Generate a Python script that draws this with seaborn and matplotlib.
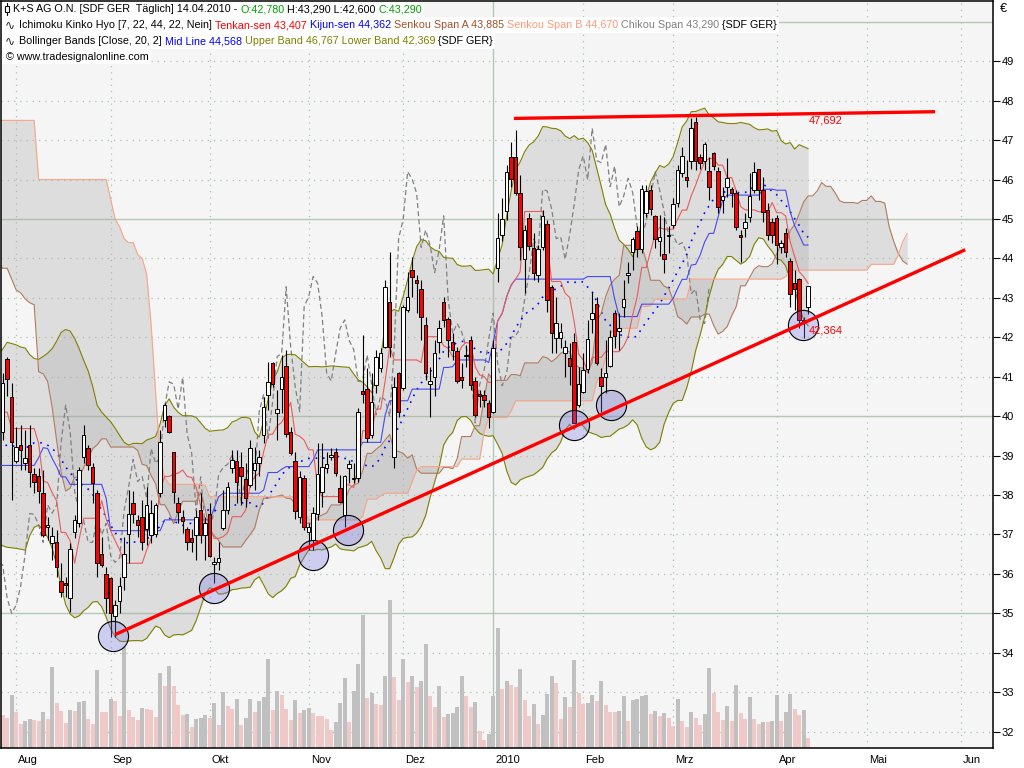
import numpy as np
import pandas as pd
import matplotlib
matplotlib.use("Agg")
import matplotlib.pyplot as plt
from matplotlib.patches import Rectangle
from matplotlib.lines import Line2D
from matplotlib.transforms import blended_transform_factory
import seaborn as sns

open_ = [39.61, 41.44, 40.49, 38.85, 39.27, 38.80, 39.27, 38.53, 38.47, 38.04,
         37.20, 36.78, 36.80, 35.83, 35.76, 35.38, 37.07, 37.28, 38.97, 39.20,
         38.72, 38.04, 36.50, 36.00, 35.89, 34.93, 35.31, 35.91, 37.01, 37.79,
         37.37, 37.45, 37.13, 36.99, 37.01, 38.04, 39.90, 40.00, 39.08, 37.79,
         37.45, 37.14, 36.90, 36.99, 37.62, 36.99, 37.51, 36.24, 36.31, 37.16,
         37.62, 38.68, 38.85, 38.70, 38.40, 38.25, 38.63, 38.80, 39.52, 40.54,
         41.36, 40.07, 40.68, 41.28, 39.61, 38.85, 37.45, 38.42, 37.05, 36.86,
         37.52, 38.08, 38.68, 38.96, 39.10, 38.19, 37.49, 38.68, 38.40, 38.42,
         40.65, 40.68, 39.52, 40.79, 41.21, 41.76, 42.90, 38.97, 41.09, 40.71,
         42.69, 43.71, 43.45, 43.22, 42.31, 40.81, 41.00, 41.89, 42.90, 42.46,
         41.87, 41.64, 40.99, 41.52, 41.93, 40.89, 40.55, 40.54, 40.33, 40.11,
         43.75, 44.59, 45.20, 46.58, 46.56, 45.65, 43.98, 45.02, 44.26, 43.58,
         44.28, 44.87, 43.28, 41.97, 41.97, 41.60, 41.47, 41.87, 40.28, 40.62,
         41.19, 42.46, 42.84, 41.00, 40.99, 41.28, 42.61, 42.17, 42.78, 43.57,
         44.17, 44.70, 44.24, 45.14, 45.74, 45.08, 44.45, 44.11, 44.56, 44.84,
         45.40, 46.17, 46.07, 46.47, 47.47, 46.58, 46.48, 46.22, 46.68, 46.22,
         45.48, 45.82, 45.76, 45.67, 44.60, 44.76, 45.06, 45.73, 46.26, 45.73,
         45.23, 44.93, 45.02, 44.30, 44.64, 43.94, 43.37, 43.47, 42.44, 42.78]
high = [41.09, 41.50, 40.83, 39.73, 39.77, 39.65, 39.77, 38.68, 38.68, 38.63,
        37.45, 37.20, 37.11, 36.27, 35.93, 36.78, 37.50, 38.72, 39.78, 39.27,
        38.80, 38.13, 36.94, 36.18, 35.93, 35.34, 35.93, 36.94, 38.13, 38.09,
        37.49, 37.87, 38.21, 37.87, 37.79, 39.65, 40.33, 40.03, 39.10, 37.96,
        37.62, 37.20, 37.15, 37.62, 38.04, 37.45, 37.79, 36.44, 36.82, 38.13,
        38.34, 39.14, 39.14, 39.10, 38.80, 39.40, 39.23, 39.14, 40.49, 41.38,
        41.38, 40.66, 41.55, 41.68, 39.73, 39.10, 38.60, 38.50, 37.30, 37.70,
        39.31, 39.31, 39.10, 39.18, 39.18, 38.50, 38.51, 38.89, 38.80, 40.20,
        42.06, 41.21, 41.09, 41.68, 41.72, 43.45, 44.17, 41.00, 41.13, 42.82,
        43.66, 44.04, 43.58, 43.45, 42.52, 41.25, 41.93, 42.44, 43.03, 42.52,
        42.10, 41.76, 41.34, 41.80, 42.02, 41.00, 40.66, 40.66, 40.41, 41.93,
        45.14, 45.52, 46.37, 46.96, 47.26, 46.12, 44.85, 45.14, 44.64, 44.34,
        45.23, 44.97, 43.33, 43.03, 42.35, 41.93, 41.85, 42.10, 41.25, 41.60,
        42.44, 43.16, 43.03, 41.21, 41.93, 42.18, 42.69, 42.61, 43.45, 43.92,
        44.55, 44.81, 45.86, 45.86, 45.86, 45.10, 45.10, 45.06, 44.81, 45.52,
        46.37, 46.83, 46.50, 47.55, 47.59, 46.66, 46.96, 46.58, 46.71, 46.33,
        45.82, 46.54, 45.82, 45.73, 44.72, 45.14, 46.16, 46.45, 46.28, 46.07,
        45.40, 45.02, 45.10, 44.47, 44.76, 44.00, 43.71, 43.50, 42.52, 43.29]
low = [39.40, 40.50, 37.87, 38.80, 38.63, 38.63, 38.21, 38.04, 37.79, 36.94,
       36.86, 36.35, 35.93, 35.42, 35.42, 35.04, 36.90, 37.20, 38.80, 38.63,
       37.79, 35.93, 36.18, 35.00, 34.41, 34.41, 35.00, 35.59, 36.27, 37.28,
       36.94, 36.61, 36.73, 36.78, 36.94, 37.96, 39.73, 39.56, 37.79, 37.28,
       37.03, 36.61, 36.56, 36.35, 36.78, 36.35, 36.44, 35.76, 36.10, 37.11,
       37.53, 38.55, 37.79, 37.75, 37.70, 38.21, 38.13, 38.47, 39.31, 40.16,
       40.75, 39.40, 40.07, 39.48, 39.02, 37.40, 37.30, 37.10, 36.61, 36.61,
       37.37, 37.70, 38.55, 38.89, 38.47, 37.79, 37.20, 38.30, 38.30, 38.34,
       40.33, 39.35, 39.44, 40.58, 41.13, 41.72, 41.51, 38.68, 39.99, 40.66,
       42.65, 43.03, 42.61, 41.93, 40.92, 39.99, 40.50, 41.60, 42.27, 41.51,
       41.42, 40.83, 40.71, 41.25, 40.66, 39.99, 40.24, 40.24, 39.69, 40.07,
       43.41, 44.43, 44.97, 45.82, 45.61, 43.96, 43.12, 44.21, 43.45, 43.41,
       44.21, 42.65, 41.60, 41.60, 41.72, 41.00, 40.79, 39.82, 40.24, 40.58,
       41.09, 42.10, 41.30, 40.11, 40.58, 41.25, 41.72, 41.68, 42.52, 43.37,
       43.71, 44.04, 44.13, 45.06, 45.10, 44.26, 44.05, 43.62, 44.13, 44.76,
       45.31, 46.07, 45.82, 46.28, 46.24, 46.28, 46.24, 45.48, 46.24, 45.14,
       45.14, 45.57, 45.30, 44.72, 43.92, 44.55, 44.93, 45.65, 45.48, 44.93,
       44.47, 44.38, 43.87, 44.13, 44.04, 42.78, 42.69, 42.23, 41.97, 42.60]
close = [40.83, 40.93, 39.35, 39.23, 39.14, 38.93, 38.59, 38.34, 38.09, 36.99,
         37.24, 36.95, 36.18, 35.55, 35.72, 36.62, 37.37, 38.63, 39.52, 38.76,
         38.30, 36.27, 36.23, 35.38, 35.00, 35.21, 35.69, 36.50, 37.53, 37.51,
         37.24, 36.80, 37.75, 37.54, 37.75, 39.35, 40.28, 39.61, 38.08, 37.58,
         37.35, 36.80, 36.80, 37.45, 36.99, 37.28, 36.46, 36.29, 36.41, 37.62,
         38.21, 38.90, 38.34, 38.47, 37.92, 39.18, 38.80, 38.97, 40.24, 40.87,
         40.81, 40.18, 40.98, 39.54, 39.06, 37.60, 38.46, 37.20, 37.20, 37.55,
         38.52, 38.70, 38.78, 39.02, 38.57, 37.83, 38.48, 38.78, 38.42, 40.11,
         40.56, 39.44, 40.37, 41.51, 41.59, 43.28, 41.76, 40.75, 40.11, 42.78,
         43.03, 43.54, 43.37, 42.52, 41.09, 40.89, 41.59, 42.23, 42.44, 41.92,
         41.69, 40.88, 40.92, 41.55, 40.79, 40.03, 40.51, 40.41, 39.99, 41.72,
         44.51, 44.99, 46.20, 46.01, 45.65, 44.28, 44.72, 44.32, 43.64, 44.23,
         45.08, 42.95, 42.10, 42.35, 42.13, 41.75, 41.28, 39.83, 40.81, 41.17,
         41.95, 42.61, 41.34, 40.77, 41.10, 42.00, 42.04, 42.23, 42.97, 43.62,
         44.49, 44.24, 45.75, 45.71, 45.25, 44.50, 44.55, 43.98, 44.60, 45.37,
         46.24, 46.60, 46.00, 47.30, 46.48, 46.43, 46.89, 45.82, 46.34, 45.31,
         45.58, 46.03, 45.67, 44.80, 44.55, 44.93, 45.58, 46.20, 45.73, 45.18,
         44.59, 44.59, 44.34, 44.40, 44.15, 43.10, 43.22, 42.44, 42.35, 43.29]
# Umsatz in Tsd. Stueck (Balkenhoehe im Chart)
volume = [330, 300, 530, 360, 240, 270, 290, 280, 270, 360,
          290, 810, 450, 370, 250, 380, 370, 460, 470, 290,
          240, 780, 360, 360, 490, 470, 320, 1010, 380, 310,
          280, 400, 390, 380, 310, 750, 620, 820, 620, 430,
          330, 340, 210, 290, 300, 330, 300, 450, 230, 560,
          420, 390, 490, 230, 300, 490, 360, 470, 510, 890,
          380, 570, 530, 390, 280, 480, 350, 380, 400, 350,
          320, 320, 290, 180, 260, 450, 700, 260, 570, 840,
          1330, 500, 550, 440, 430, 720, 1480, 710, 480, 890,
          660, 720, 610, 670, 1040, 520, 410, 620, 310, 340,
          350, 410, 720, 520, 410, 460, 170, 80, 140, 520,
          1200, 590, 670, 630, 610, 790, 480, 320, 440, 240,
          330, 540, 720, 650, 290, 510, 410, 880, 550, 440,
          450, 530, 470, 670, 430, 360, 360, 370, 520, 270,
          480, 490, 520, 530, 340, 370, 320, 350, 300, 220,
          490, 270, 210, 360, 300, 230, 340, 800, 550, 360,
          280, 420, 270, 630, 350, 290, 510, 290, 240, 260,
          260, 270, 530, 270, 360, 540, 390, 330, 380, 100]
vol_top = 7470  # Umsatz, der der vollen Chart-Hoehe entspricht

# fruehere Kurse (Mai - Juli 2009), nur fuer die Indikatoren am linken Rand
hist_high = [44.6, 45.2, 45.9, 45.9, 46.6, 47.4, 47.3, 47.9, 48.8, 48.9,
             49.5, 50.3, 50.2, 50.9, 51.8, 51.6, 52.4, 53.1, 53.0, 53.7,
             54.5, 54.4, 55.1, 55.7, 56.0, 55.0, 54.0, 53.6, 53.0, 52.5,
             52.8, 52.2, 52.0, 51.2, 48.6, 45.2, 42.4, 41.4, 40.9, 41.0,
             40.9, 40.5, 40.4, 40.8, 40.6, 40.5, 40.3, 40.1, 40.2, 40.1,
             40.3, 39.9, 38.8, 37.7, 38.2, 38.1, 38.6, 39.0, 38.9, 39.3,
             39.9, 39.9, 40.6, 41.0, 41.5, 41.2]
hist_low = [43.2, 43.8, 44.5, 44.6, 45.0, 46.0, 46.0, 46.3, 47.3, 47.5,
            47.9, 48.9, 48.8, 49.2, 50.3, 50.2, 50.6, 51.7, 51.6, 52.0,
            53.1, 53.0, 53.5, 54.3, 54.4, 53.6, 52.8, 52.3, 51.7, 51.4,
            51.6, 51.1, 50.8, 49.6, 46.5, 43.0, 40.4, 39.8, 39.5, 39.6,
            39.4, 39.0, 39.2, 39.6, 39.3, 39.4, 39.2, 39.1, 39.3, 39.2,
            39.4, 39.0, 36.0, 36.4, 36.9, 37.0, 37.4, 37.9, 37.7, 38.1,
            38.8, 38.7, 39.2, 39.9, 40.3, 39.8]
hist_close = [44.0, 44.8, 45.5, 45.1, 46.2, 47.0, 46.4, 47.5, 48.3, 48.0,
              49.1, 49.8, 49.4, 50.5, 51.2, 50.7, 52.0, 52.6, 52.1, 53.3,
              54.0, 53.6, 54.7, 55.2, 55.0, 54.2, 53.5, 53.0, 52.3, 52.0,
              52.4, 51.7, 51.5, 50.0, 47.0, 43.5, 41.0, 40.6, 40.0, 40.5,
              40.2, 39.6, 40.0, 40.4, 39.8, 40.1, 39.6, 39.6, 39.8, 39.7,
              39.9, 39.4, 36.6, 37.2, 37.8, 37.5, 38.2, 38.6, 38.4, 38.9,
              39.6, 39.4, 40.2, 40.7, 41.2, 40.6]

months = ["Aug", "Sep", "Okt", "Nov", "Dez", "2010", "Feb", "Mrz", "Apr", "Mai", "Jun"]
month_bar = [3, 24, 46, 68, 89, 109, 129, 149, 172, 192, 213]

# Trendlinien, Kreise, Beschriftungen
support_x = [25.0, 213.9]
support_y = [34.46, 44.22]
resist_x = [113.6, 207.2]
resist_y = [47.55, 47.72]
circle_x = [24.5, 47.0, 69.0, 76.7, 127.0, 135.2, 177.8]
circle_y = [34.42, 35.64, 36.48, 37.11, 39.77, 40.28, 42.31]
line_labels = ["47,692", "42,364"]
label_y = [47.51, 42.18]

# ---- Indikatoren ----
n_hist = len(hist_close)
pos = np.arange(-n_hist, len(close))
H = pd.Series(hist_high + high, index=pos)
L = pd.Series(hist_low + low, index=pos)
C = pd.Series(hist_close + close, index=pos)

tenkan = (H.rolling(7).max() + L.rolling(7).min()) / 2
kijun = (H.rolling(22).max() + L.rolling(22).min()) / 2
span_a = (tenkan + kijun) / 2
span_b = (H.rolling(44).max() + L.rolling(44).min()) / 2
bb_mid = C.rolling(20).mean()
bb_std = C.rolling(20).std(ddof=0)
bb_up = bb_mid + 2 * bb_std
bb_lo = bb_mid - 2 * bb_std

xb = np.arange(len(close))
o = np.array(open_)
hi = np.array(high)
lo = np.array(low)
c = np.array(close)
vol = np.array(volume, dtype=float)

# ---- Figure ----
sns.set_theme(style="white")
plt.rcParams["font.family"] = ["Liberation Sans", "DejaVu Sans"]
W, Hpx = 1024, 768
fig = plt.figure(figsize=(W / 100, Hpx / 100), dpi=100)
fig.patch.set_facecolor("white")
ax = fig.add_axes([1 / W, 20 / Hpx, 992 / W, 747 / Hpx])
ax.set_facecolor("#f5f5f5")
y0, y1 = 31.584, 50.528
ax.set_xlim(-0.37, 220.07)
ax.set_ylim(y0, y1)

grid_c = "#a9c4a9"
for v in range(32, 51):
    if v % 5 == 0:
        ax.axhline(v, color="#b4c8b4", lw=1.0, zorder=0.5)
    else:
        ax.axhline(v, color=grid_c, lw=0.9, ls=(0, (1, 4)), zorder=0.5)
for m, b in zip(months, month_bar):
    if m == "2010":
        ax.axvline(b, color="#b4c8b4", lw=1.0, zorder=0.5)
    else:
        ax.axvline(b, color=grid_c, lw=0.9, ls=(0, (1, 4)), zorder=0.5)

# Umsatz im Hintergrund
vol_up = np.r_[False, vol[1:] > vol[:-1]]
vol_h = vol / vol_top * (y1 - y0)
ax.bar(xb, vol_h, bottom=y0, width=0.88,
       color=np.where(vol_up, "#c0c0c0", "#efc8c8"), lw=0, zorder=1)

# Bollinger Baender und Wolke
vis = pos >= -1
ax.fill_between(pos[vis], bb_up.values[vis], bb_lo.values[vis],
                color="#a8a8a8", alpha=0.3, lw=0, zorder=1.5)
sx = pos + 22
sm = (sx >= -1) & span_b.notna().values & span_a.notna().values
ax.fill_between(sx[sm], span_a.values[sm], span_b.values[sm],
                color="#a8a8a8", alpha=0.3, lw=0, zorder=1.5)

sns.lineplot(x=pos[vis], y=bb_up.values[vis], ax=ax, color="#808000", lw=0.8, zorder=2.5)
sns.lineplot(x=pos[vis], y=bb_lo.values[vis], ax=ax, color="#808000", lw=0.8, zorder=2.5)
sns.lineplot(x=pos[vis], y=bb_mid.values[vis], ax=ax, color="#0000ff", lw=1.2,
             linestyle=(0, (1, 3.5)), zorder=2.5)
sns.lineplot(x=sx[sm], y=span_a.values[sm], ax=ax, color="#b07a60", lw=0.8, zorder=2.5)
sns.lineplot(x=sx[sm], y=span_b.values[sm], ax=ax, color="#f8a486", lw=0.8, zorder=2.5)
sns.lineplot(x=pos[vis], y=kijun.values[vis], ax=ax, color="#4848f0", lw=0.8, zorder=2.6)
sns.lineplot(x=pos[vis], y=tenkan.values[vis], ax=ax, color="#ec5a5a", lw=0.8, zorder=2.6)
cx = xb - 22
cm = cx >= -1
sns.lineplot(x=cx[cm], y=c[cm], ax=ax, color="#808080", lw=0.9,
             linestyle=(0, (4, 2.5)), zorder=2.4)

# Kerzen
up = c >= o
ax.vlines(xb, lo, hi, color="black", lw=0.8, zorder=3)
ax.bar(xb, np.maximum(np.abs(c - o), 0.04), bottom=np.minimum(o, c), width=0.78,
       color=np.where(up, "white", "#ff0000"), edgecolor="black", lw=0.7, zorder=3.2)

# Kreise und Trendlinien
ax.scatter(circle_x, circle_y, s=470, facecolor=(0.45, 0.45, 0.9, 0.3),
           edgecolor="black", lw=0.8, zorder=4)
ax.plot(support_x, support_y, color="#ff0000", lw=2.4, solid_capstyle="butt", zorder=5)
ax.plot(resist_x, resist_y, color="#ff0000", lw=2.4, solid_capstyle="butt", zorder=5)
for s, yv in zip(line_labels, label_y):
    ax.text(179.2, yv, s, color="#ff0000", fontsize=8, ha="left", va="center", zorder=6)

# Achsen
ax.set_xlabel("")
ax.set_ylabel("")
for sp in ax.spines.values():
    sp.set_color("black")
    sp.set_linewidth(1.1)
ax.yaxis.tick_right()
ax.set_yticks(range(32, 50))
ax.set_yticklabels([str(v) for v in range(32, 50)])
ax.tick_params(axis="y", direction="out", length=5, width=0.8, pad=1.5,
               labelsize=8, colors="black", left=False)
ax.set_xticks(month_bar)
ax.set_xticklabels([])
ax.tick_params(axis="x", direction="out", length=5, width=0.8, colors="black")
tr = blended_transform_factory(ax.transData, ax.transAxes)
for m, b in zip(months, month_bar):
    ax.text(b + 0.45, -0.009, m, transform=tr, ha="left", va="top",
            fontsize=8, color="black", clip_on=False)
fig.text(1000 / W, 1 - 9 / Hpx, "€", fontsize=9, ha="left", va="center", color="black")

# Kopfzeilen
hdr_font = ["Liberation Sans", "DejaVu Sans"]
renderer = fig.canvas.get_renderer()


def text_w(s, size):
    t = fig.text(0, 0, s, fontsize=size, family=hdr_font)
    w = t.get_window_extent(renderer).width
    t.remove()
    return w


row2 = [("Ichimoku Kinko Hyo [7, 22, 44, 22, Nein]", "black"),
        ("Tenkan-sen 43,407", "#ff0000"),
        ("Kijun-sen 44,362", "#0000ff"),
        ("Senkou Span A 43,885", "#a0522d"),
        ("Senkou Span B 44,670", "#ff9a78"),
        ("Chikou Span 43,290", "#808080"),
        ("{SDF GER}", "black")]
hdr_size = 8 * 756 / text_w(" ".join(p[0] for p in row2), 8)
space_w = text_w("a a", hdr_size) - text_w("aa", hdr_size)


def header_row(x0, base, parts):
    x = x0
    for s, col in parts:
        t = fig.text(x / W, 1 - base / Hpx, s, color=col, fontsize=hdr_size,
                     family=hdr_font, ha="left", va="baseline", zorder=4)
        x += t.get_window_extent(renderer).width + space_w
    return x - space_w


rows = [
    (13, 12.5, [("K+S AG O.N. [SDF GER  Täglich] 14.04.2010 -", "black"),
                ("O:42,780", "#00a000"),
                ("H:43,290 L:42,600", "black"),
                ("C:43,290", "#00a000")]),
    (19, 28.5, row2),
    (19, 44.5, [("Bollinger Bands [Close, 20, 2]", "black"),
                ("Mid Line 44,568", "#0000ff"),
                ("Upper Band 46,767 Lower Band 42,369", "#808000"),
                ("{SDF GER}", "black")]),
    (6, 59.5, [("© www.tradesignalonline.com", "black")]),
]
tops = [1.5, 17, 33, 48.5]
for (x0, base, parts), top in zip(rows, tops):
    x_end = header_row(x0, base, parts)
    fig.add_artist(Rectangle((2 / W, 1 - (top + 15.5) / Hpx), (x_end + 2 - 2) / W, 15.5 / Hpx,
                             transform=fig.transFigure, facecolor="white",
                             edgecolor="none", zorder=3))
for base in (28.5, 44.5):
    fig.text(5 / W, 1 - base / Hpx, "∿", fontsize=hdr_size + 1, family=["DejaVu Sans"],
             ha="left", va="baseline", zorder=4)
# kleines Kerzensymbol vor der ersten Zeile
fig.add_artist(Line2D([6.5 / W, 6.5 / W], [1 - 3 / Hpx, 1 - 15 / Hpx],
                      transform=fig.transFigure, color="black", lw=0.8, zorder=4))
fig.add_artist(Rectangle((4.5 / W, 1 - 12 / Hpx), 4 / W, 6 / Hpx, transform=fig.transFigure,
                         facecolor="white", edgecolor="black", lw=0.8, zorder=4.5))

fig.savefig("out.png", dpi=100)
